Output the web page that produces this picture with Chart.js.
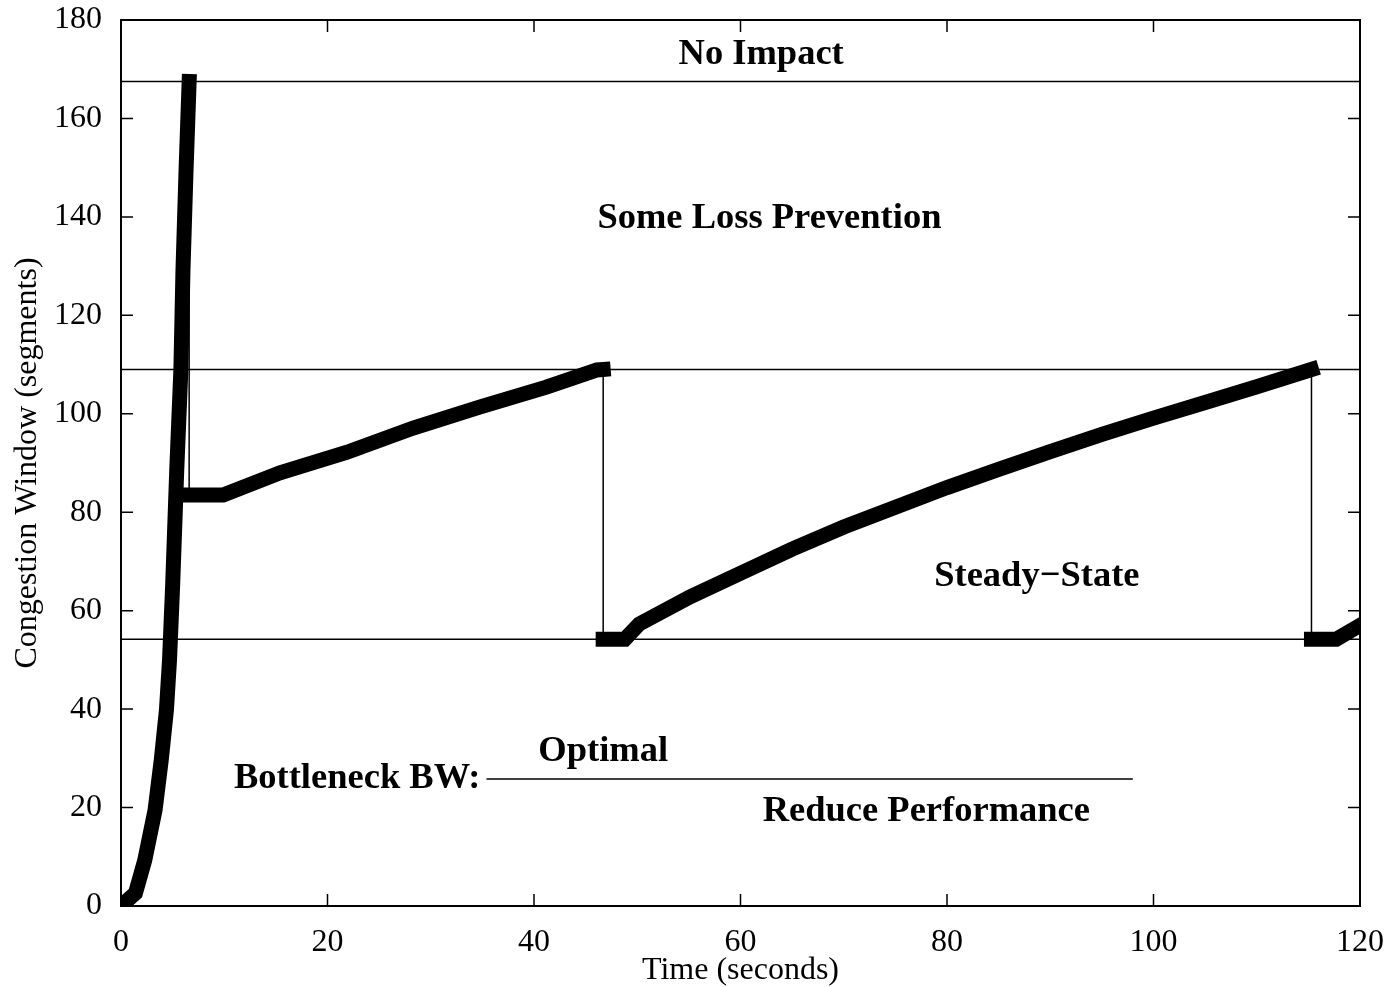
<!DOCTYPE html>
<html>
<head>
<meta charset="utf-8">
<script src="https://cdn.jsdelivr.net/npm/chart.js@4"></script>
<style>
html,body{margin:0;padding:0;background:#fff;}
</style>
</head>
<body>
<canvas id="myChart" width="1390" height="987"></canvas>
<script>
// congestion window trace (time s, window segments)
let slowStartT = [0, 1.4, 2.3, 3.3, 3.9, 4.4, 4.7, 5.0, 5.4, 5.8, 6.0, 6.3, 6.6];
let slowStartV = [0, 2.6, 9.3, 19.5, 29.7, 39.8, 50, 65, 88.6, 109, 129, 149.5, 167.5];

let recovery1T = [6.6, 9.9, 15.4, 21.9, 28.3, 34.8, 41.2, 46.1, 46.7];
let recovery1V = [83.5, 83.5, 88, 92.2, 97.1, 101.4, 105.4, 108.9, 109];

let recovery2T = [46.7, 48.8, 50.2, 55.1, 60, 65, 70, 75, 80, 85, 90, 95, 100, 105, 110, 115.3];
let recovery2V = [54.2, 54.2, 57.3, 62.8, 67.6, 72.5, 77, 81, 85, 88.7, 92.3, 95.8, 99.1, 102.3, 105.5, 109];

let recovery3T = [115.3, 117.7, 120];
let recovery3V = [54.2, 54.2, 57];

// loss events: thin drops
let dropT = [6.6, 46.7, 115.3];
let dropHigh = [167.5, 109, 109];
let dropLow = [83.5, 54.2, 54.2];

// zone boundaries
let zoneLines = [167.5, 109, 54.2];

// "Bottleneck BW" key line
let keyT = [35.4, 98];
let keyV = 25.8;

let xTicks = [0, 20, 40, 60, 80, 100, 120];
let yTicks = [0, 20, 40, 60, 80, 100, 120, 140, 160, 180];

let noteText = ["No Impact", "Some Loss Prevention", "Steady\u2212State", "Optimal", "Bottleneck BW:", "Reduce Performance"];
let noteT = [62, 62.8, 88.7, 46.7, 34.8, 78];
let noteV = [172.9, 139.6, 67, 31.3, 25.8, 19.1];
let noteAlign = ["center", "center", "center", "center", "right", "center"];

const serif = "'Liberation Serif', 'DejaVu Serif', serif";

function pts(ts, vs){
	return ts.map((t, i) => ({x: t, y: vs[i]}));
}

let thick = [];
[[slowStartT, slowStartV], [recovery1T, recovery1V], [recovery2T, recovery2V], [recovery3T, recovery3V]].forEach(s => {
	if(thick.length) thick.push({x: s[0][0], y: null});
	thick = thick.concat(pts(s[0], s[1]));
});

let thin = [];
dropT.forEach((t, i) => {
	thin.push({x: t, y: dropHigh[i]}, {x: t, y: dropLow[i]}, {x: t, y: null});
});
zoneLines.forEach(v => {
	thin.push({x: 0, y: v}, {x: 120, y: v}, {x: 120, y: null});
});
thin.push({x: keyT[0], y: keyV}, {x: keyT[1], y: keyV});

const frame = {
	id: "frame",
	afterDraw(chart){
		const ctx = chart.ctx;
		const a = chart.chartArea;
		const x = chart.scales.x, y = chart.scales.y;
		ctx.save();
		ctx.strokeStyle = "#000";
		ctx.lineWidth = 1.5;
		ctx.beginPath();
		xTicks.forEach(v => {
			let px = x.getPixelForValue(v);
			ctx.moveTo(px, a.bottom); ctx.lineTo(px, a.bottom - 12);
			ctx.moveTo(px, a.top); ctx.lineTo(px, a.top + 12);
		});
		yTicks.forEach(v => {
			let py = y.getPixelForValue(v);
			ctx.moveTo(a.left, py); ctx.lineTo(a.left + 12, py);
			ctx.moveTo(a.right, py); ctx.lineTo(a.right - 12, py);
		});
		ctx.stroke();
		ctx.lineWidth = 2;
		ctx.strokeRect(a.left, a.top, a.width, a.height);

		ctx.fillStyle = "#000";
		ctx.font = "bold 36.5px " + serif;
		ctx.textBaseline = "middle";
		noteText.forEach((txt, i) => {
			ctx.textAlign = noteAlign[i];
			ctx.fillText(txt, x.getPixelForValue(noteT[i]), y.getPixelForValue(noteV[i]));
		});
		ctx.restore();
	}
};

let chart = new Chart("myChart", {
	type: "line",
	data: {
		datasets: [{
			data: thick,
			borderColor: "#000",
			borderWidth: 15,
			borderCapStyle: "square",
			borderJoinStyle: "miter",
			pointRadius: 0,
			spanGaps: false,
			order: 0
		}, {
			data: thin,
			borderColor: "#000",
			borderWidth: 1.5,
			pointRadius: 0,
			spanGaps: false,
			order: 1
		}]
	},
	options: {
		responsive: false,
		animation: false,
		layout: { padding: { top: 20, right: 30, left: 0, bottom: 0 } },
		plugins: { legend: { display: false }, tooltip: { enabled: false } },
		scales: {
			x: {
				type: "linear",
				min: 0,
				max: 120,
				grid: { display: false },
				border: { display: false },
				ticks: { stepSize: 20, color: "#000", padding: 9, font: { family: serif, size: 32 } },
				title: { display: true, text: "Time (seconds)", color: "#000", padding: 0, font: { family: serif, size: 32, lineHeight: 1.05 } },
				afterFit: s => { s.height = 81; s.paddingLeft = 0; s.paddingRight = 0; }
			},
			y: {
				min: 0,
				max: 180,
				grid: { display: false },
				border: { display: false },
				ticks: { stepSize: 20, color: "#000", padding: 11, font: { family: serif, size: 32 } },
				title: { display: true, text: "Congestion Window (segments)", color: "#000", padding: { top: 10, bottom: 0 }, font: { family: serif, size: 32, lineHeight: 1.1 } },
				afterFit: s => { s.width = 121; s.paddingTop = 0; s.paddingBottom = 0; }
			}
		}
	},
	plugins: [frame]
});
</script>
</body>
</html>
